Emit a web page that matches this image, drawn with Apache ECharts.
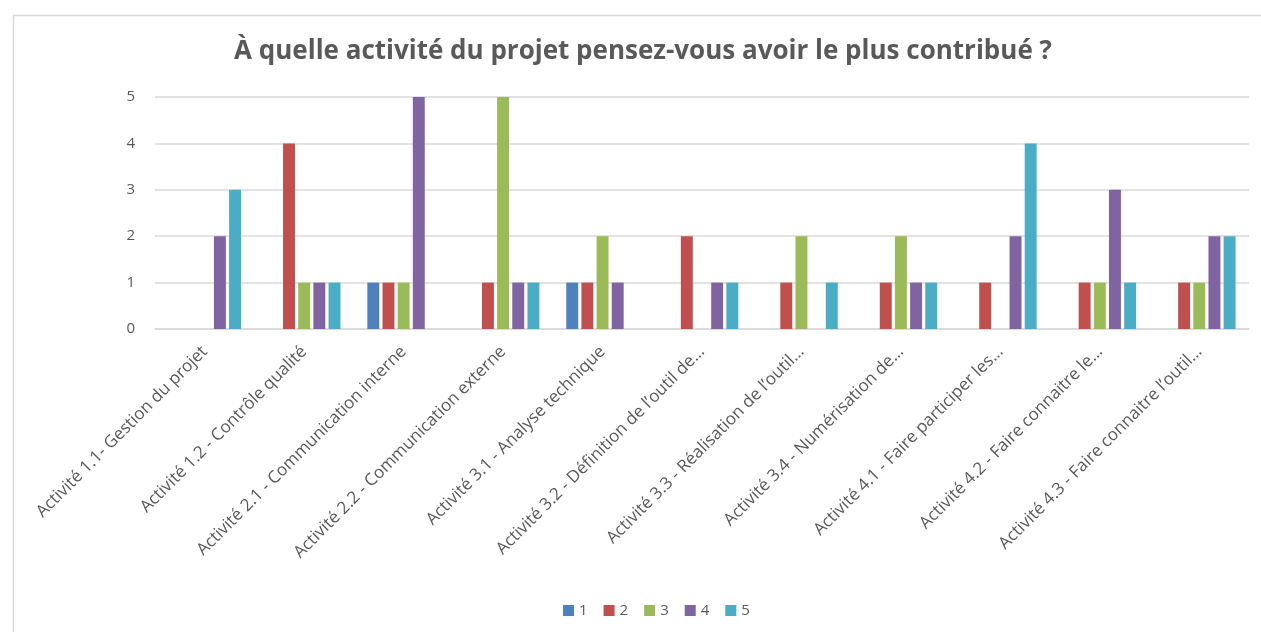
<!DOCTYPE html>
<html>
<head>
<meta charset="utf-8">
<script src="https://cdn.jsdelivr.net/npm/echarts@6/dist/echarts.min.js"></script>
<style>
  html, body { margin: 0; padding: 0; background: #fff; }
  #chart { width: 1261px; height: 632px; }
</style>
</head>
<body>
<div id="chart"></div>
<script>
// categories (axis labels as truncated in the original)
const activities = [
  "Activité 1.1- Gestion du projet",
  "Activité 1.2 - Contrôle qualité",
  "Activité 2.1 - Communication interne",
  "Activité 2.2 - Communication externe",
  "Activité 3.1 - Analyse technique",
  "Activité 3.2 - Définition de l’outil de…",
  "Activité 3.3 - Réalisation de l’outil…",
  "Activité 3.4 - Numérisation de…",
  "Activité 4.1 - Faire participer les…",
  "Activité 4.2 - Faire connaitre le…",
  "Activité 4.3 - Faire connaitre l’outil…"
];

const seriesNames = ["1", "2", "3", "4", "5"];
const rating1 = [0, 0, 1, 0, 1, 0, 0, 0, 0, 0, 0];
const rating2 = [0, 4, 1, 1, 1, 2, 1, 1, 1, 1, 1];
const rating3 = [0, 1, 1, 5, 2, 0, 2, 2, 0, 1, 1];
const rating4 = [2, 1, 5, 1, 1, 1, 0, 1, 2, 3, 2];
const rating5 = [3, 1, 0, 1, 0, 1, 1, 1, 4, 1, 2];
const yTicks = [0, 1, 2, 3, 4, 5];

const colors = ["#4F81BD", "#C0504D", "#9BBB59", "#8064A2", "#4BACC6"];
const font = "'Open Sans', 'Noto Sans', sans-serif";

const myChart = echarts.init(document.getElementById("chart"));

const option = {
  animation: false,
  color: colors,
  textStyle: { fontFamily: font },
  graphic: [
    {
      type: "rect",
      shape: { x: 13.5, y: 15.5, width: 1300, height: 700 },
      style: { fill: "none", stroke: "#d9d9d9", lineWidth: 1.5 },
      silent: true
    }
  ],
  title: {
    text: "À quelle activité du projet pensez-vous avoir le plus contribué ?",
    left: 638,
    top: 34,
    textAlign: "center",
    textStyle: {
      fontFamily: font,
      fontSize: 26,
      fontWeight: "bold",
      color: "#595959"
    }
  },
  legend: {
    data: seriesNames,
    left: 558,
    top: 598,
    icon: "rect",
    itemWidth: 11,
    itemHeight: 11,
    itemGap: 16,
    textStyle: { fontSize: 15, color: "#595959", fontFamily: font }
  },
  grid: {
    left: 155,
    right: 12,
    top: 97,
    bottom: 303,
    containLabel: false,
    outerBoundsMode: "none"
  },
  xAxis: {
    type: "category",
    data: activities,
    axisLine: { lineStyle: { color: "#d9d9d9", width: 1.5 } },
    axisTick: { show: false },
    axisLabel: {
      rotate: 45,
      interval: 0,
      margin: 20,
      fontSize: 17,
      color: "#595959",
      fontFamily: font
    }
  },
  yAxis: {
    type: "value",
    min: yTicks[0],
    max: yTicks[yTicks.length - 1],
    interval: 1,
    axisLine: { show: false },
    axisTick: { show: false },
    axisLabel: { fontSize: 15, color: "#595959", margin: 20, fontFamily: font },
    splitLine: { lineStyle: { color: "#d9d9d9", width: 1.5 } }
  },
  series: [rating1, rating2, rating3, rating4, rating5].map((values, i) => ({
    name: seriesNames[i],
    type: "bar",
    data: values,
    barGap: "27%",
    barCategoryGap: "27%"
  }))
};

myChart.setOption(option);
window.addEventListener("resize", () => myChart.resize());
</script>
</body>
</html>
